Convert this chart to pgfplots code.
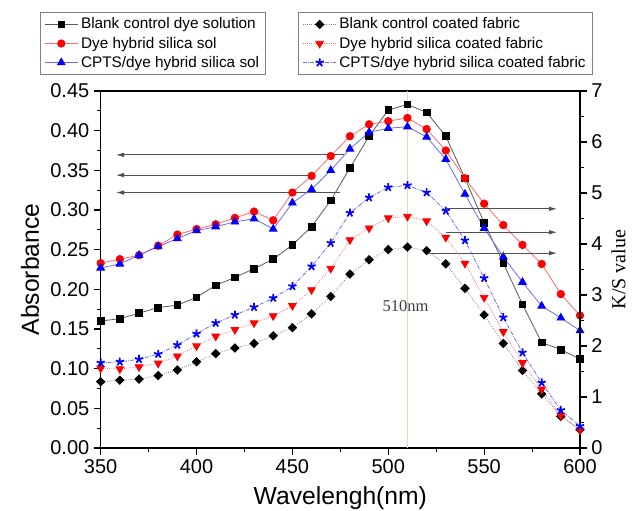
\documentclass[border=0pt]{standalone}
\usepackage{fontspec}
\setmainfont{Liberation Sans}
\newfontfamily\serif{Liberation Serif}
\usepackage{pgfplots}
\pgfplotsset{compat=1.18}
\usetikzlibrary{arrows.meta}

\definecolor{lnblack}{HTML}{5A5A5A}
\definecolor{lnred}{HTML}{FF6A6A}
\definecolor{lnblue}{HTML}{6A6AFF}
\definecolor{vline}{HTML}{DCDCB8}
\definecolor{arrowc}{HTML}{505050}

\pgfplotsset{
  common/.style={
    width=359.5pt, height=267.75pt, scale only axis,
    xmin=350, xmax=600,
    axis line style={line width=0.9pt},
    tick align=outside,
    major tick length=5pt, minor tick length=3pt,
    every tick/.style={line width=0.8pt, black},
    ticklabel style={font=\fontsize{15}{18}\selectfont},
    /pgf/number format/assume math mode=true,
    legend cell align=left,
    legend image code/.code={\draw[mark repeat=2,mark phase=2] plot coordinates {(0cm,0cm) (0.44cm,0cm) (0.88cm,0cm)};},
    legend style={draw=gray, line width=0.6pt, font=\fontsize{11.5}{13}\selectfont,
      inner xsep=3pt, inner ysep=2pt, row sep=0.5pt, anchor=north west},
  },
  sol/.style={line width=0.6pt},
  fab/.style={line width=0.6pt},
}

\begin{document}
\begin{tikzpicture}

\begin{axis}[common,
  ymin=0, ymax=0.45,
  xtick={350,400,450,500,550,600},
  ytick={0,0.05,0.1,0.15,0.2,0.25,0.3,0.35,0.4,0.45},
  minor x tick num=1, minor y tick num=1,
  xtick pos=lower, ytick pos=left,
  yticklabel style={/pgf/number format/.cd, fixed, fixed zerofill, precision=2},
  xlabel={Wavelengh(nm)},
  ylabel={Absorbance},
  xlabel style={font=\fontsize{18.5}{21}\selectfont, at={(rel axis cs:0.5,0)}, anchor=north, inner sep=0pt, yshift=-29pt},
  ylabel style={font=\fontsize{18.5}{21}\selectfont, at={(rel axis cs:0,0.5)}, anchor=south, inner sep=0pt, yshift=46pt},
  legend style={at={(-0.127,1.221)}},
]
\addplot[color=vline, line width=1.3pt, forget plot] coordinates {(510,0) (510,0.45)};
\node[font=\serif\fontsize{12.4}{14}\selectfont, text=darkgray] at (axis cs:509,0.179) {510nm};

\addplot[arrowc, line width=0.7pt, -{Latex[length=6pt,width=3.5pt]}, forget plot] coordinates {(477,0.3695) (358,0.3695)};
\addplot[arrowc, line width=0.7pt, -{Latex[length=6pt,width=3.5pt]}, forget plot] coordinates {(461,0.344) (358,0.344)};
\addplot[arrowc, line width=0.7pt, -{Latex[length=6pt,width=3.5pt]}, forget plot] coordinates {(475,0.322) (358,0.322)};

\addplot[sol, color=lnblack, mark=square*, mark size=2.5pt, mark options={solid, fill=black, draw=black}] coordinates {
(350,0.160) (360,0.163) (370,0.170) (380,0.177) (390,0.180) (400,0.190) (410,0.205) (420,0.215) (430,0.226)
(440,0.238) (450,0.256) (460,0.279) (470,0.312) (480,0.353) (490,0.393) (500,0.426) (510,0.433) (520,0.423)
(530,0.393) (540,0.340) (550,0.284) (560,0.233) (570,0.181) (580,0.133) (590,0.124) (600,0.112)};
\addlegendentry{Blank control dye solution}

\addplot[sol, color=lnred, mark=*, mark size=2.8pt, mark options={solid, fill=red, draw=red}] coordinates {
(350,0.233) (360,0.238) (370,0.243) (380,0.255) (390,0.269) (400,0.276) (410,0.282) (420,0.290) (430,0.298)
(440,0.287) (450,0.322) (460,0.343) (470,0.368) (480,0.393) (490,0.408) (500,0.412) (510,0.416) (520,0.402)
(530,0.375) (540,0.340) (550,0.308) (560,0.281) (570,0.256) (580,0.232) (590,0.194) (600,0.167)};
\addlegendentry{Dye hybrid silica sol}

\addplot[sol, color=lnblue, mark=triangle*, mark size=3.3pt, mark options={solid, fill=blue, draw=blue}] coordinates {
(350,0.227) (360,0.232) (370,0.243) (380,0.254) (390,0.264) (400,0.274) (410,0.279) (420,0.285) (430,0.289)
(440,0.276) (450,0.309) (460,0.326) (470,0.350) (480,0.377) (490,0.398) (500,0.403) (510,0.405) (520,0.392)
(530,0.364) (540,0.320) (550,0.277) (560,0.241) (570,0.209) (580,0.179) (590,0.164) (600,0.148)};
\addlegendentry{CPTS/dye hybrid silica sol}

\coordinate (bl) at (rel axis cs:0,0);
\coordinate (tr) at (rel axis cs:1,1);
\end{axis}

\begin{axis}[common,
  ymin=0, ymax=7,
  axis x line=none, axis y line*=right,
  ytick={0,1,2,3,4,5,6,7},
  minor y tick num=1,
  ylabel={K/S value},
  ylabel style={font=\serif\fontsize{15}{17}\selectfont, at={(rel axis cs:1,0.5)}, anchor=north, inner sep=0pt, yshift=-23.5pt},
  legend style={at={(0.412,1.221)}},
]
\addplot[arrowc, line width=0.7pt, -{Latex[length=6pt,width=3.5pt]}, forget plot] coordinates {(530,4.69) (588,4.69)};
\addplot[arrowc, line width=0.7pt, -{Latex[length=6pt,width=3.5pt]}, forget plot] coordinates {(530,4.23) (588,4.23)};
\addplot[arrowc, line width=0.7pt, -{Latex[length=6pt,width=3.5pt]}, forget plot] coordinates {(521,3.82) (588,3.82)};

\addplot[fab, color=gray, densely dotted, mark=square*, mark size=2.2pt, mark options={solid, rotate=45, fill=black, draw=black}] coordinates {
(350,1.30) (360,1.33) (370,1.35) (380,1.42) (390,1.53) (400,1.69) (410,1.85) (420,1.96) (430,2.05)
(440,2.20) (450,2.36) (460,2.63) (470,2.97) (480,3.41) (490,3.69) (500,3.89) (510,3.94) (520,3.87)
(530,3.61) (540,3.13) (550,2.61) (560,2.05) (570,1.52) (580,1.06) (590,0.62) (600,0.36)};
\addlegendentry{Blank control coated fabric}

\addplot[fab, color=lnred, densely dotted, mark=triangle*, mark size=3.3pt, mark options={solid, rotate=180, fill=red, draw=red}] coordinates {
(350,1.56) (360,1.55) (370,1.59) (380,1.66) (390,1.80) (400,2.00) (410,2.19) (420,2.32) (430,2.45)
(440,2.59) (450,2.79) (460,3.10) (470,3.52) (480,4.08) (490,4.31) (500,4.51) (510,4.54) (520,4.45)
(530,4.13) (540,3.62) (550,2.95) (560,2.28) (570,1.67) (580,1.15) (590,0.64) (600,0.35)};
\addlegendentry{Dye hybrid silica coated fabric}

\addplot[fab, color=lnblue, densely dashdotted, mark=star, mark size=3.2pt, mark options={solid, line width=1.3pt, draw=blue}] coordinates {
(350,1.67) (360,1.69) (370,1.74) (380,1.84) (390,2.02) (400,2.24) (410,2.45) (420,2.61) (430,2.76)
(440,2.94) (450,3.17) (460,3.56) (470,4.02) (480,4.61) (490,4.91) (500,5.11) (510,5.15) (520,5.01)
(530,4.65) (540,4.07) (550,3.33) (560,2.56) (570,1.87) (580,1.28) (590,0.74) (600,0.43)};
\addlegendentry{CPTS/dye hybrid silica coated fabric}
\end{axis}

\pgfresetboundingbox
\useasboundingbox ([xshift=-75.5pt,yshift=-47.25pt]bl) rectangle ([xshift=39.75pt,yshift=68.25pt]tr);
\end{tikzpicture}
\end{document}
